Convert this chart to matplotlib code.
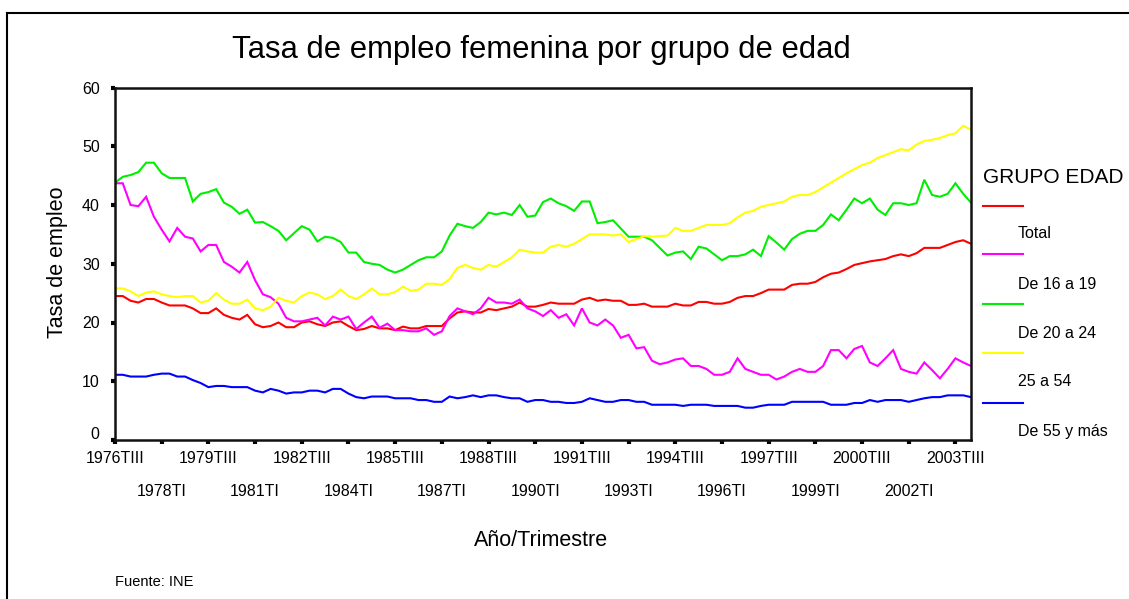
import matplotlib
matplotlib.use("Agg")
import matplotlib.pyplot as plt
from matplotlib.lines import Line2D
from matplotlib.transforms import ScaledTranslation
import numpy as np

plt.rcParams['font.family'] = ['Liberation Sans', 'DejaVu Sans']

# ---------------- data ----------------
quarter_index = np.arange(111)  # 1976TIII .. 2004TI

total = [24.5, 24.5, 23.7, 23.4, 24.0, 24.0, 23.4, 22.9, 22.9, 22.9, 22.4, 21.6, 21.6, 22.4, 21.3, 20.8,
         20.5, 21.3, 19.7, 19.2, 19.4, 20.0, 19.2, 19.2, 20.0, 20.2, 19.7, 19.4, 20.0, 20.2, 19.4, 18.7,
         18.9, 19.4, 19.0, 19.0, 18.7, 19.3, 19.0, 19.0, 19.4, 19.4, 19.4, 20.7, 21.7, 21.9, 21.7, 21.7,
         22.3, 22.1, 22.4, 22.7, 23.4, 22.7, 22.7, 23.0, 23.4, 23.2, 23.2, 23.2, 23.9, 24.2, 23.7, 23.9,
         23.7, 23.7, 23.0, 23.0, 23.2, 22.7, 22.7, 22.7, 23.2, 22.9, 22.9, 23.5, 23.5, 23.2, 23.2, 23.5,
         24.2, 24.5, 24.5, 25.0, 25.6, 25.6, 25.6, 26.4, 26.6, 26.6, 26.9, 27.7, 28.3, 28.5, 29.1, 29.8,
         30.1, 30.4, 30.6, 30.8, 31.3, 31.6, 31.3, 31.8, 32.7, 32.7, 32.7, 33.2, 33.7, 34.0, 33.4]

de16a19 = [43.7, 43.7, 40.0, 39.8, 41.4, 38.0, 35.8, 33.8, 36.1, 34.6, 34.3, 32.1, 33.2, 33.2, 30.3, 29.5,
           28.5, 30.3, 27.2, 24.8, 24.3, 23.2, 20.8, 20.2, 20.2, 20.5, 20.8, 19.5, 21.0, 20.5, 21.0, 18.9,
           20.0, 21.0, 19.1, 19.8, 18.7, 18.7, 18.5, 18.5, 19.0, 17.9, 18.5, 21.1, 22.4, 21.9, 21.4, 22.4,
           24.2, 23.4, 23.4, 23.2, 23.9, 22.4, 21.9, 21.1, 22.1, 20.8, 21.4, 19.5, 22.4, 20.0, 19.5, 20.5,
           19.5, 17.4, 17.9, 15.6, 15.8, 13.5, 12.9, 13.2, 13.7, 13.9, 12.6, 12.6, 12.1, 11.1, 11.1, 11.6,
           13.9, 12.1, 11.6, 11.1, 11.1, 10.3, 10.8, 11.6, 12.1, 11.6, 11.6, 12.6, 15.3, 15.3, 13.9, 15.5,
           16.0, 13.2, 12.6, 13.9, 15.3, 12.1, 11.6, 11.3, 13.2, 11.9, 10.5, 12.1, 13.9, 13.2, 12.6]

de20a24 = [43.8, 44.8, 45.1, 45.6, 47.2, 47.2, 45.4, 44.6, 44.6, 44.6, 40.6, 41.9, 42.2, 42.7, 40.4, 39.7,
           38.5, 39.2, 37.0, 37.1, 36.4, 35.6, 34.0, 35.2, 36.4, 35.8, 33.8, 34.6, 34.4, 33.7, 31.9, 31.9,
           30.3, 30.0, 29.8, 29.0, 28.5, 29.0, 29.8, 30.6, 31.1, 31.1, 32.1, 34.8, 36.8, 36.4, 36.1, 37.1,
           38.7, 38.4, 38.7, 38.3, 40.0, 38.0, 38.2, 40.5, 41.1, 40.3, 39.8, 39.0, 40.6, 40.6, 36.9, 37.1,
           37.4, 36.0, 34.6, 34.6, 34.6, 34.0, 32.7, 31.4, 31.9, 32.1, 30.8, 32.9, 32.6, 31.6, 30.6, 31.3,
           31.3, 31.6, 32.4, 31.3, 34.7, 33.6, 32.4, 34.2, 35.1, 35.6, 35.6, 36.6, 38.4, 37.4, 39.2, 41.1,
           40.3, 41.1, 39.2, 38.3, 40.3, 40.3, 40.0, 40.3, 44.3, 41.7, 41.4, 41.9, 43.7, 41.9, 40.4]

de25a54 = [25.8, 25.8, 25.3, 24.5, 25.1, 25.3, 24.8, 24.5, 24.3, 24.5, 24.5, 23.4, 23.7, 25.0, 23.9, 23.2,
           23.2, 23.9, 22.4, 22.1, 22.7, 24.2, 23.7, 23.4, 24.5, 25.1, 24.8, 24.0, 24.5, 25.6, 24.5, 24.0,
           24.8, 25.8, 24.8, 24.8, 25.2, 26.1, 25.4, 25.6, 26.6, 26.6, 26.4, 27.4, 29.3, 29.8, 29.3, 29.0,
           29.8, 29.5, 30.3, 31.1, 32.4, 32.1, 31.9, 31.9, 32.9, 33.2, 32.9, 33.4, 34.2, 35.0, 35.0, 35.0,
           34.8, 35.0, 33.7, 34.2, 34.7, 34.6, 34.7, 34.8, 36.1, 35.6, 35.6, 36.1, 36.6, 36.6, 36.6, 36.9,
           37.9, 38.7, 39.0, 39.7, 40.0, 40.3, 40.6, 41.4, 41.7, 41.7, 42.2, 43.0, 43.8, 44.6, 45.4, 46.1,
           46.8, 47.2, 48.0, 48.5, 49.0, 49.5, 49.3, 50.3, 50.9, 51.1, 51.4, 51.9, 52.2, 53.5, 52.8]

de55ymas = [11.1, 11.1, 10.8, 10.8, 10.8, 11.1, 11.3, 11.3, 10.8, 10.8, 10.2, 9.7, 9.0, 9.2, 9.2, 9.0,
            9.0, 9.0, 8.4, 8.1, 8.7, 8.4, 7.9, 8.1, 8.1, 8.4, 8.4, 8.1, 8.7, 8.7, 7.9, 7.3,
            7.1, 7.4, 7.4, 7.4, 7.1, 7.1, 7.1, 6.8, 6.8, 6.5, 6.5, 7.4, 7.1, 7.3, 7.6, 7.3,
            7.6, 7.6, 7.3, 7.1, 7.1, 6.5, 6.8, 6.8, 6.5, 6.5, 6.3, 6.3, 6.5, 7.1, 6.8, 6.5,
            6.5, 6.8, 6.8, 6.5, 6.5, 6.0, 6.0, 6.0, 6.0, 5.8, 6.0, 6.0, 6.0, 5.8, 5.8, 5.8,
            5.8, 5.5, 5.5, 5.8, 6.0, 6.0, 6.0, 6.5, 6.5, 6.5, 6.5, 6.5, 6.0, 6.0, 6.0, 6.3,
            6.3, 6.8, 6.5, 6.8, 6.8, 6.8, 6.5, 6.8, 7.1, 7.3, 7.3, 7.6, 7.6, 7.6, 7.3]

series_names = ["Total", "De 16 a 19", "De 20 a 24", "25 a 54", "De 55 y más"]
series_values = [total, de16a19, de20a24, de25a54, de55ymas]
series_colors = ["#ff0000", "#ff00ff", "#00ee00", "#ffff00", "#0000ff"]

upper_tick_pos = [0, 12, 24, 36, 48, 60, 72, 84, 96, 108]
upper_tick_labels = ["1976TIII", "1979TIII", "1982TIII", "1985TIII", "1988TIII",
                     "1991TIII", "1994TIII", "1997TIII", "2000TIII", "2003TIII"]
lower_tick_pos = [6, 18, 30, 42, 54, 66, 78, 90, 102]
lower_tick_labels = ["1978TI", "1981TI", "1984TI", "1987TI", "1990TI",
                     "1993TI", "1996TI", "1999TI", "2002TI"]
y_ticks = [0, 10, 20, 30, 40, 50, 60]

# ---------------- figure ----------------
W, H = 1129, 599
fig = plt.figure(figsize=(W / 100, H / 100), dpi=100)
fig.patch.set_facecolor("white")

def fx(px):
    return px / W

def fy(py):
    return 1 - py / H

# outer frame (top and left only)
fig.add_artist(Line2D([fx(7), fx(7)], [fy(12.5), 0], color="black", lw=1.5))
fig.add_artist(Line2D([fx(7), 1], [fy(12.5), fy(12.5)], color="black", lw=1.5))

ax = fig.add_axes([fx(115), fy(440), fx(971) - fx(115), fy(87.5) - fy(440)])
for name, vals, col in zip(series_names, series_values, series_colors):
    ax.plot(quarter_index, vals, color=col, lw=1.5, solid_joinstyle="miter")

ax.set_xlim(0, 110)
ax.set_ylim(0, 60)
for s in ax.spines.values():
    s.set_linewidth(1.8)
    s.set_color("#111111")

ax.set_yticks(y_ticks)
ax.set_yticklabels([str(v) for v in y_ticks], fontsize=11.5)
ax.tick_params(axis="y", direction="out", length=3, width=3, pad=8)
# SPSS lifts the "0" label slightly
zero_lbl = ax.get_yticklabels()[0]
zero_lbl.set_transform(zero_lbl.get_transform() + ScaledTranslation(0, 0.07, fig.dpi_scale_trans))

ax.set_xticks(upper_tick_pos)
ax.set_xticklabels(upper_tick_labels, fontsize=11.5)
ax.set_xticks(lower_tick_pos, minor=True)
ax.set_xticklabels(lower_tick_labels, minor=True, fontsize=11.5)
ax.tick_params(axis="x", which="major", direction="out", length=3, width=3, pad=5)
ax.tick_params(axis="x", which="minor", direction="out", length=3, width=3, pad=29)

fig.text(fx(541), fy(50), "Tasa de empleo femenina por grupo de edad", fontsize=22.3,
         ha="center", va="center")
fig.text(fx(57), fy(262), "Tasa de empleo", fontsize=15.5, rotation=90,
         ha="center", va="center")
fig.text(fx(541), fy(541), "Año/Trimestre", fontsize=15.5, ha="center", va="center")
fig.text(fx(115), fy(582), "Fuente: INE", fontsize=10.5, ha="left", va="center")

# legend (SPSS style)
fig.text(fx(983), fy(178), "GRUPO EDAD", fontsize=15, ha="left", va="center")
line_y = [206, 254.3, 303.7, 353.3, 402.7]
text_y = [234, 284.3, 333.3, 381.7, 431.7]
for name, col, ly, ty in zip(series_names, series_colors, line_y, text_y):
    fig.add_artist(Line2D([fx(983), fx(1023)], [fy(ly), fy(ly)], color=col, lw=1.5))
    fig.text(fx(1018), fy(ty), name, fontsize=11.5, ha="left", va="center")

fig.savefig("out.png", dpi=100, facecolor="white")
